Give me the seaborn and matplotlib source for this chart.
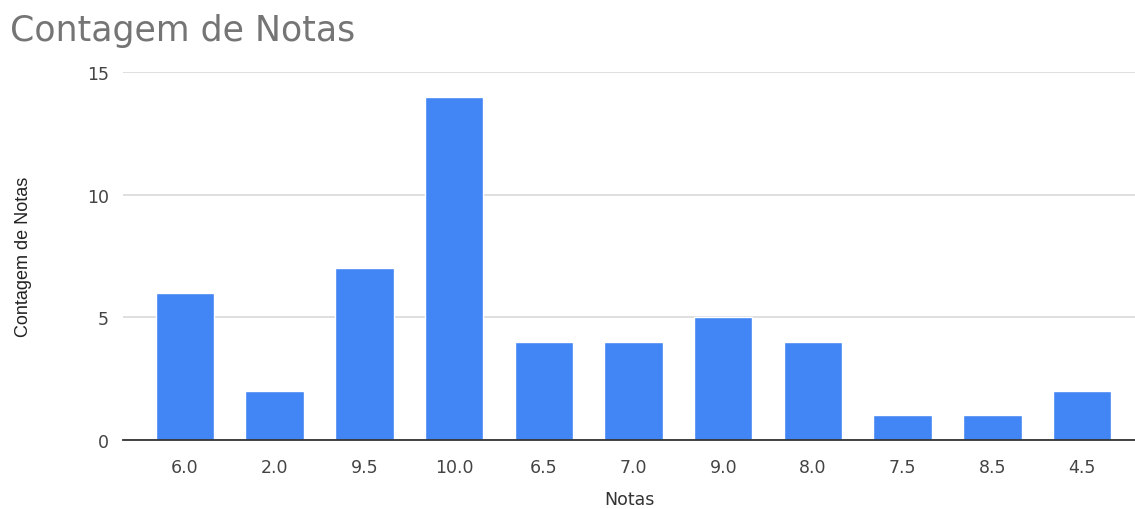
import matplotlib
matplotlib.use("Agg")
import matplotlib.pyplot as plt
import seaborn as sns
import pandas as pd

notas = ["6.0", "2.0", "9.5", "10.0", "6.5", "7.0", "9.0", "8.0", "7.5", "8.5", "4.5"]
contagem = [6, 2, 7, 14, 4, 4, 5, 4, 1, 1, 2]
y_ticks = [0, 5, 10, 15]

sns.set_theme(style="white")
plt.rcParams["font.family"] = ["DejaVu Sans"]

df = pd.DataFrame({"Notas": notas, "Contagem de Notas": contagem})

fig = plt.figure(figsize=(11.35, 5.10), dpi=100)
ax = fig.add_axes([0.1084, 0.1353, 0.8916, 0.7216])

sns.barplot(data=df, x="Notas", y="Contagem de Notas", order=notas,
            color="#4285F4", saturation=1, width=0.65, ax=ax, zorder=3)

ax.set_xlim(-0.69, 10.59)
ax.set_ylim(0, 15)
ax.set_yticks(y_ticks)
ax.yaxis.grid(True, color="#d9d9d9", linewidth=1.2, zorder=0)
ax.xaxis.grid(False)
for s in ["top", "right", "left"]:
    ax.spines[s].set_visible(False)
ax.spines["bottom"].set_color("#333333")
ax.spines["bottom"].set_linewidth(1.3)
ax.spines["bottom"].set_zorder(4)
ax.tick_params(axis="both", length=0, labelsize=12.5, labelcolor="#444444")
ax.tick_params(axis="y", pad=10)
ax.tick_params(axis="x", pad=13)

ax.set_xlabel("Notas", fontsize=12.5, color="#333333")
ax.xaxis.set_label_coords(0.5, -0.135)
ax.set_ylabel("Contagem de Notas", fontsize=13, color="#222222", labelpad=40,
              family=["Liberation Sans Narrow", "Liberation Sans", "DejaVu Sans"])

fig.text(0.009, 0.94, "Contagem de Notas", fontsize=25, color="#757575",
         ha="left", va="center")

fig.savefig("out.png", dpi=100, facecolor="white")
